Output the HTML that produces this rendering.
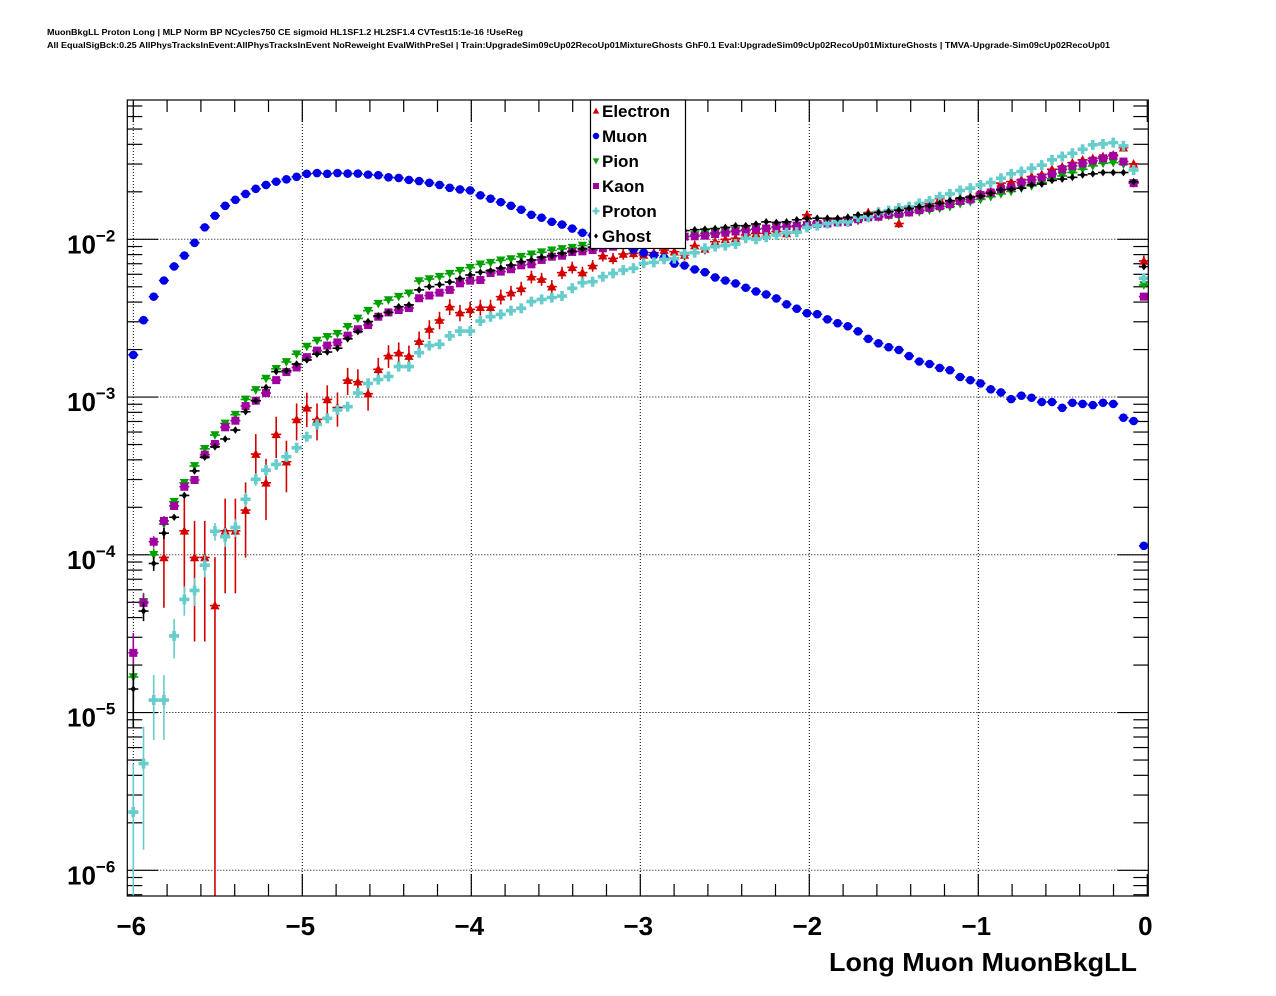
<!DOCTYPE html>
<html><head><meta charset="utf-8">
<style>
html,body{margin:0;padding:0;background:#fff;}
svg{display:block;font-family:"Liberation Sans",Arial,sans-serif;}
</style></head>
<body>
<svg id="chart" width="1276" height="996" viewBox="0 0 1276 996" xmlns="http://www.w3.org/2000/svg">
<rect x="0" y="0" width="1276" height="996" fill="#fff"/>
<text x="47" y="35" font-size="8.6" font-weight="bold" textLength="476" lengthAdjust="spacingAndGlyphs">MuonBkgLL Proton Long | MLP Norm BP NCycles750 CE sigmoid HL1SF1.2 HL2SF1.4 CVTest15:1e-16 !UseReg</text>
<text x="47" y="48" font-size="8.6" font-weight="bold" textLength="1063" lengthAdjust="spacingAndGlyphs">All EqualSigBck:0.25 AllPhysTracksInEvent:AllPhysTracksInEvent NoReweight EvalWithPreSel | Train:UpgradeSim09cUp02RecoUp01MixtureGhosts GhF0.1 Eval:UpgradeSim09cUp02RecoUp01MixtureGhosts | TMVA-Upgrade-Sim09cUp02RecoUp01</text>
<defs><clipPath id="plotclip"><rect x="127.3" y="100" width="1021" height="796"/></clipPath></defs>
<g id="grid"></g>
<g id="axes"></g>
<g id="series" clip-path="url(#plotclip)"></g>
<rect x="127.3" y="100" width="1021" height="796" fill="none" stroke="#000" stroke-width="1.2"/>
<g id="legend"></g>
<text x="1137" y="971" font-size="26" font-weight="bold" text-anchor="end" textLength="308" lengthAdjust="spacingAndGlyphs">Long Muon MuonBkgLL</text>
</svg>
<script>
const seriesNames = ["Electron","Muon","Pion","Kaon","Proton","Ghost"];
const xTickLabels = ["\u22126","\u22125","\u22124","\u22123","\u22122","\u22121","0"];
const xTickValues = [-6,-5,-4,-3,-2,-1,0];
const yDecades = [-6,-5,-4,-3,-2];
const binStart = -6.0;
const binStep = 0.0604;

const electron = [null,null,null,9.62e-5,null,1.42e-4,9.62e-5,9.62e-5,4.77e-5,1.42e-4,
1.42e-4,1.92e-4,4.35e-4,2.86e-4,5.80e-4,3.89e-4,7.21e-4,8.55e-4,7.21e-4,9.66e-4,
8.59e-4,1.28e-3,1.25e-3,1.05e-3,1.50e-3,1.83e-3,1.91e-3,1.82e-3,2.26e-3,2.70e-3,
3.08e-3,3.74e-3,3.43e-3,3.60e-3,3.71e-3,3.71e-3,4.33e-3,4.59e-3,4.89e-3,5.79e-3,
5.60e-3,5.01e-3,6.15e-3,6.64e-3,6.15e-3,6.81e-3,7.87e-3,7.57e-3,8.07e-3,8.15e-3,
7.96e-3,8.23e-3,8.55e-3,8.35e-3,7.96e-3,9.12e-3,8.69e-3,9.66e-3,1.00e-2,1.015e-2,
1.065e-2,1.09e-2,1.09e-2,1.12e-2,1.09e-2,1.20e-2,1.43e-2,1.28e-2,1.34e-2,1.33e-2,
1.36e-2,1.39e-2,1.48e-2,1.50e-2,1.51e-2,1.26e-2,1.61e-2,1.61e-2,1.68e-2,1.81e-2,
1.73e-2,1.78e-2,1.86e-2,1.96e-2,2.01e-2,2.27e-2,2.32e-2,2.38e-2,2.50e-2,2.58e-2,
2.78e-2,2.89e-2,3.06e-2,3.19e-2,3.26e-2,3.35e-2,3.43e-2,3.81e-2,3.01e-2,7.29e-3];
const electronErr = [0,0,0,5e-5,0,8.5e-5,6.8e-5,6.8e-5,4.9e-5,8.5e-5,
8.5e-5,9.6e-5,1.47e-4,1.2e-4,1.7e-4,1.4e-4,1.9e-4,2.1e-4,1.9e-4,2.2e-4,
2.1e-4,2.5e-4,2.5e-4,2.3e-4,2.7e-4,3.0e-4,3.1e-4,3.0e-4,3.4e-4,3.7e-4,
3.9e-4,4.3e-4,4.1e-4,4.2e-4,4.3e-4,4.3e-4,4.7e-4,4.8e-4,4.9e-4,5.4e-4,
5.3e-4,5.0e-4,5.5e-4,5.8e-4,5.5e-4,5.8e-4,6.3e-4,6.2e-4,6.4e-4,6.4e-4,
6.3e-4,6.4e-4,6.5e-4,6.5e-4,6.3e-4,6.8e-4,6.6e-4,6.9e-4,7.1e-4,7.1e-4,
7.3e-4,7.4e-4,7.4e-4,7.5e-4,7.4e-4,7.7e-4,8.5e-4,8.0e-4,8.2e-4,8.2e-4,
8.2e-4,8.3e-4,8.6e-4,8.7e-4,8.7e-4,7.9e-4,9.0e-4,9.0e-4,9.2e-4,9.5e-4,
9.3e-4,9.4e-4,9.6e-4,9.9e-4,1.0e-3,1.07e-3,1.08e-3,1.09e-3,1.12e-3,1.14e-3,
1.18e-3,1.2e-3,1.24e-3,1.26e-3,1.28e-3,1.29e-3,1.31e-3,1.38e-3,1.23e-3,6e-4];
const muon = [1.85e-3,3.07e-3,4.33e-3,5.48e-3,6.73e-3,7.89e-3,9.5e-3,1.19e-2,1.41e-2,1.63e-2,
1.78e-2,1.94e-2,2.09e-2,2.21e-2,2.32e-2,2.40e-2,2.49e-2,2.60e-2,2.63e-2,2.60e-2,
2.63e-2,2.61e-2,2.61e-2,2.57e-2,2.55e-2,2.47e-2,2.45e-2,2.38e-2,2.34e-2,2.28e-2,
2.21e-2,2.12e-2,2.07e-2,2.04e-2,1.90e-2,1.81e-2,1.72e-2,1.63e-2,1.54e-2,1.43e-2,
1.37e-2,1.29e-2,1.24e-2,1.17e-2,1.10e-2,1.06e-2,1.01e-2,9.6e-3,9.2e-3,8.6e-3,
8.24e-3,7.93e-3,7.66e-3,7.02e-3,6.82e-3,6.44e-3,6.19e-3,5.73e-3,5.48e-3,5.25e-3,
4.93e-3,4.67e-3,4.47e-3,4.22e-3,3.87e-3,3.63e-3,3.40e-3,3.35e-3,3.11e-3,2.94e-3,
2.81e-3,2.61e-3,2.34e-3,2.19e-3,2.07e-3,1.99e-3,1.82e-3,1.68e-3,1.62e-3,1.53e-3,
1.48e-3,1.34e-3,1.28e-3,1.22e-3,1.12e-3,1.07e-3,9.7e-4,1.02e-3,9.9e-4,9.3e-4,
9.3e-4,8.55e-4,9.2e-4,9.05e-4,8.9e-4,9.2e-4,9.05e-4,7.4e-4,7.05e-4,1.14e-4];
const pion = [1.68e-5,5.04e-5,1.00e-4,1.57e-4,2.17e-4,2.86e-4,3.66e-4,4.70e-4,5.74e-4,6.81e-4,
7.73e-4,9.66e-4,1.11e-3,1.31e-3,1.51e-3,1.67e-3,1.87e-3,2.09e-3,2.28e-3,2.41e-3,
2.52e-3,2.79e-3,3.15e-3,3.53e-3,3.91e-3,4.12e-3,4.33e-3,4.55e-3,5.44e-3,5.60e-3,
5.79e-3,6.05e-3,6.32e-3,6.61e-3,6.94e-3,7.11e-3,7.36e-3,7.50e-3,7.76e-3,8.04e-3,
8.28e-3,8.51e-3,8.69e-3,8.85e-3,9.12e-3,9.29e-3,9.43e-3,9.57e-3,9.71e-3,9.85e-3,
1.00e-2,1.01e-2,1.02e-2,1.03e-2,1.04e-2,1.065e-2,1.09e-2,1.10e-2,1.12e-2,1.135e-2,
1.15e-2,1.16e-2,1.17e-2,1.19e-2,1.20e-2,1.22e-2,1.23e-2,1.25e-2,1.27e-2,1.28e-2,
1.29e-2,1.31e-2,1.36e-2,1.38e-2,1.41e-2,1.41e-2,1.48e-2,1.49e-2,1.53e-2,1.57e-2,
1.61e-2,1.68e-2,1.73e-2,1.79e-2,1.86e-2,1.94e-2,2.01e-2,2.11e-2,2.18e-2,2.29e-2,
2.42e-2,2.52e-2,2.65e-2,2.78e-2,2.92e-2,3.03e-2,3.06e-2,2.99e-2,2.27e-2,5.13e-3];
const pionErr = [5e-6,7e-6,1e-5,1.2e-5];
const kaon = [2.39e-5,4.96e-5,1.21e-4,1.64e-4,2.04e-4,2.70e-4,2.98e-4,4.31e-4,5.04e-4,6.43e-4,
7.08e-4,8.77e-4,9.48e-4,1.06e-3,1.28e-3,1.44e-3,1.54e-3,1.79e-3,1.97e-3,2.12e-3,
2.22e-3,2.45e-3,2.69e-3,2.86e-3,3.23e-3,3.44e-3,3.56e-3,3.67e-3,4.23e-3,4.40e-3,
4.59e-3,4.78e-3,5.26e-3,5.47e-3,5.52e-3,6.11e-3,6.24e-3,6.46e-3,6.84e-3,6.94e-3,
7.40e-3,7.76e-3,7.87e-3,8.31e-3,8.39e-3,8.55e-3,8.77e-3,8.98e-3,9.44e-3,9.66e-3,
1.015e-2,1.025e-2,1.03e-2,1.035e-2,1.04e-2,1.045e-2,1.055e-2,1.08e-2,1.10e-2,1.12e-2,
1.135e-2,1.16e-2,1.17e-2,1.20e-2,1.21e-2,1.22e-2,1.23e-2,1.25e-2,1.26e-2,1.28e-2,
1.29e-2,1.34e-2,1.38e-2,1.39e-2,1.43e-2,1.45e-2,1.48e-2,1.53e-2,1.58e-2,1.62e-2,
1.67e-2,1.75e-2,1.79e-2,1.91e-2,1.98e-2,2.08e-2,2.14e-2,2.29e-2,2.38e-2,2.47e-2,
2.60e-2,2.78e-2,2.92e-2,3.03e-2,3.15e-2,3.26e-2,3.38e-2,3.11e-2,2.27e-2,4.33e-3];
const kaonErr = [8e-6,7e-6,1e-5,1.2e-5];
const proton = [2.34e-6,4.75e-6,1.20e-5,1.20e-5,3.06e-5,5.21e-5,5.94e-5,8.59e-5,1.41e-4,1.30e-4,
1.49e-4,2.25e-4,3.01e-4,3.44e-4,3.74e-4,4.19e-4,4.77e-4,5.60e-4,6.71e-4,7.33e-4,
8.28e-4,8.69e-4,1.06e-3,1.22e-3,1.29e-3,1.35e-3,1.56e-3,1.56e-3,1.91e-3,2.12e-3,
2.16e-3,2.44e-3,2.62e-3,2.62e-3,3.03e-3,3.23e-3,3.34e-3,3.53e-3,3.65e-3,4.03e-3,
4.16e-3,4.27e-3,4.37e-3,4.89e-3,5.31e-3,5.39e-3,5.79e-3,6.08e-3,6.38e-3,6.55e-3,
7.05e-3,7.14e-3,7.47e-3,7.54e-3,8.15e-3,8.23e-3,8.77e-3,8.98e-3,9.12e-3,9.33e-3,
1.015e-2,1.00e-2,1.03e-2,1.065e-2,1.10e-2,1.11e-2,1.19e-2,1.22e-2,1.26e-2,1.29e-2,
1.29e-2,1.38e-2,1.39e-2,1.48e-2,1.52e-2,1.58e-2,1.61e-2,1.69e-2,1.75e-2,1.86e-2,
1.94e-2,2.04e-2,2.11e-2,2.21e-2,2.29e-2,2.44e-2,2.60e-2,2.69e-2,2.82e-2,2.95e-2,
3.19e-2,3.35e-2,3.51e-2,3.72e-2,3.97e-2,4.02e-2,4.10e-2,3.91e-2,2.75e-2,5.66e-3];
const protonErr = [2.4e-6,3.4e-6,5.3e-6,5.3e-6,8.6e-6,1.1e-5,1.2e-5,1.4e-5,1.8e-5,1.8e-5,1.9e-5,2.3e-5,2.7e-5,2.9e-5,3.0e-5,3.2e-5,3.4e-5,3.7e-5,4.0e-5,4.2e-5,4.5e-5];
const ghost = [1.41e-5,4.40e-5,8.81e-5,1.37e-4,1.73e-4,2.38e-4,3.40e-4,4.16e-4,4.84e-4,5.42e-4,
6.18e-4,8.07e-4,9.48e-4,1.15e-3,1.45e-3,1.47e-3,1.62e-3,1.72e-3,1.87e-3,1.93e-3,
2.04e-3,2.34e-3,2.60e-3,3.01e-3,3.27e-3,3.44e-3,3.74e-3,3.84e-3,4.78e-3,5.01e-3,
5.16e-3,5.36e-3,5.64e-3,5.94e-3,6.18e-3,6.32e-3,6.58e-3,6.87e-3,7.22e-3,7.40e-3,
7.69e-3,7.87e-3,8.15e-3,8.39e-3,8.69e-3,8.89e-3,9.12e-3,9.44e-3,9.90e-3,1.04e-2,
1.09e-2,1.10e-2,1.11e-2,1.12e-2,1.135e-2,1.15e-2,1.16e-2,1.17e-2,1.19e-2,1.22e-2,
1.22e-2,1.25e-2,1.29e-2,1.28e-2,1.29e-2,1.33e-2,1.35e-2,1.36e-2,1.36e-2,1.36e-2,
1.38e-2,1.43e-2,1.45e-2,1.48e-2,1.50e-2,1.53e-2,1.57e-2,1.61e-2,1.63e-2,1.69e-2,
1.76e-2,1.82e-2,1.85e-2,1.88e-2,1.96e-2,2.06e-2,2.08e-2,2.11e-2,2.21e-2,2.24e-2,
2.36e-2,2.41e-2,2.47e-2,2.56e-2,2.60e-2,2.65e-2,2.65e-2,2.65e-2,2.32e-2,6.71e-3];
const ghostErr = [6e-6,6e-6,9e-6,1.1e-5];

const NS = "http://www.w3.org/2000/svg";
const PL = 127.3, PR = 1148.3, PT = 100, PB = 896;
function xPx(v){ return 133.3 + (v + 6) * 169.0; }
function yPx(v){ return 239.3 + (-2 - Math.log10(v)) * 157.75; }
function mk(tag, attrs, parent){
  const e = document.createElementNS(NS, tag);
  for (const k in attrs) e.setAttribute(k, attrs[k]);
  parent.appendChild(e);
  return e;
}
const grid = document.getElementById('grid');
const axes = document.getElementById('axes');
const layer = document.getElementById('series');
const legend = document.getElementById('legend');
const svg = document.getElementById('chart');

// grid
xTickValues.forEach(function(v){
  if (v >= 0) return;
  const l = mk('line', {x1:xPx(v), x2:xPx(v), y1:PT, y2:PB, stroke:'#000', 'stroke-width':1, 'stroke-dasharray':'1,2'}, grid);
  
  
});
yDecades.forEach(function(d){
  const py = yPx(Math.pow(10, d));
  const l = mk('line', {x1:PL, x2:PR, y1:py, y2:py, stroke:'#000', 'stroke-width':1, 'stroke-dasharray':'1,2'}, grid);
  
  
});

// x ticks
for (let k = 0; k <= 30; k++){
  const v = -6 + k * 0.2;
  const px = xPx(v);
  if (px < PL || px > PR) continue;
  const major = (k % 5 === 0);
  const len = major ? 22 : 12;
  const t1 = mk('line', {x1:px, x2:px, y1:PB, y2:PB - len, stroke:'#000', 'stroke-width':1.2}, axes);
  
  
  const t2 = mk('line', {x1:px, x2:px, y1:PT, y2:PT + len, stroke:'#000', 'stroke-width':1.2}, axes);
  
  
}
xTickValues.forEach(function(v, i){
  const t = mk('text', {x:xPx(v) - 2, y:935, 'font-size':26, 'font-weight':'bold', 'text-anchor':'middle'}, axes);
  t.textContent = xTickLabels[i];
  
  
});
// y ticks
for (let n = -7; n <= -1; n++){
  for (let m = 1; m <= 9; m++){
    const py = yPx(m * Math.pow(10, n));
    if (py < PT || py > PB) continue;
    const len = (m === 1) ? 31 : 15;
    const a = mk('line', {x1:PL, x2:PL + len, y1:py, y2:py, stroke:'#000', 'stroke-width':1.2}, axes);
    
    
    const b = mk('line', {x1:PR, x2:PR - len, y1:py, y2:py, stroke:'#000', 'stroke-width':1.2}, axes);
    
    
  }
}
yDecades.forEach(function(d){
  const py = yPx(Math.pow(10, d));
  const t = mk('text', {x:67, y:py + 14, 'font-size':26, 'font-weight':'bold'}, axes);
  
  
  const a = document.createElementNS(NS, 'tspan'); a.textContent = '10'; t.appendChild(a);
  const b = document.createElementNS(NS, 'tspan');
  b.setAttribute('dy', '-12'); b.setAttribute('font-size', '17');
  b.textContent = '\u2212' + Math.abs(d); t.appendChild(b);
});

// markers
function marker(kind, cx, cy, color, parent){
  let e;
  if (kind === 'tri-up'){
    e = mk('polygon', {points:(cx-4.6)+','+(cy+3.8)+' '+(cx+4.6)+','+(cy+3.8)+' '+cx+','+(cy-4.8), fill:color}, parent);
  } else if (kind === 'tri-down'){
    e = mk('polygon', {points:(cx-4.6)+','+(cy-3.8)+' '+(cx+4.6)+','+(cy-3.8)+' '+cx+','+(cy+4.8), fill:color}, parent);
  } else if (kind === 'circle'){
    e = mk('circle', {cx:cx, cy:cy, r:4.3, fill:color}, parent);
  } else if (kind === 'square'){
    e = mk('rect', {x:cx-4, y:cy-4, width:8, height:8, fill:color}, parent);
  } else if (kind === 'cross'){
    e = mk('path', {d:'M'+(cx-1.8)+' '+(cy-5)+'h3.6v3.2h3.2v3.6h-3.2v3.2h-3.6v-3.2h-3.2v-3.6h3.2z', fill:color}, parent);
  } else {
    e = mk('polygon', {points:cx+','+(cy-3.8)+' '+(cx+2.8)+','+cy+' '+cx+','+(cy+3.8)+' '+(cx-2.8)+','+cy, fill:color}, parent);
  }
  return e;
}
const seriesData = [electron, muon, pion, kaon, proton, ghost];
const seriesErr = [electronErr, [], pionErr, kaonErr, protonErr, ghostErr];
const seriesColor = ['#d40000', '#0000e6', '#00a000', '#a000a0', '#66cccc', '#000000'];
const seriesMarker = ['tri-up', 'circle', 'tri-down', 'square', 'cross', 'diamond'];
const seriesKey = ['electron', 'muon', 'pion', 'kaon', 'proton', 'ghost'];
const halfW = binStep / 2 * 169.0 * 0.98;

seriesData.forEach(function(vals, s){
  const g = mk('g', {}, layer);
  
  
  const col = seriesColor[s];
  vals.forEach(function(v, i){
    if (v === null || v <= 0) return;
    const cx = xPx(binStart + i * binStep);
    const cy = yPx(v);
    const h = mk('line', {x1:cx - halfW, x2:cx + halfW, y1:cy, y2:cy, stroke:col, 'stroke-width':1.6}, g);
    
    
    const err = seriesErr[s][i] || 0;
    if (err > 0){
      const top = yPx(v + err);
      const bot = (v - err > 0) ? yPx(v - err) : PB + 5;
      const ev = mk('line', {x1:cx, x2:cx, y1:top, y2:Math.min(bot, PB + 5), stroke:col, 'stroke-width':1.6}, g);
      
      
    }
    const m = marker(seriesMarker[s], cx, cy, col, g);
    
    
  });
});

// legend
const box = mk('rect', {x:590.5, y:100, width:95, height:148.5, fill:'#fff', stroke:'#000', 'stroke-width':1.2}, legend);


seriesNames.forEach(function(name, s){
  const cy = 111 + s * 25;
  const g = mk('g', {}, legend);
  
  
  const sc = (seriesMarker[s] === 'circle' || seriesMarker[s] === 'square') ? 0.75 : 0.7;
  const mg = mk('g', {transform:'translate(596,' + cy + ') scale(' + sc + ')'}, g);
  const m = marker(seriesMarker[s], 0, 0, seriesColor[s], mg);
  
  
  const t = mk('text', {x:602, y:cy + 6, 'font-size':17, 'font-weight':'bold'}, g);
  t.textContent = name;
  
  
});
</script>
</body></html>
